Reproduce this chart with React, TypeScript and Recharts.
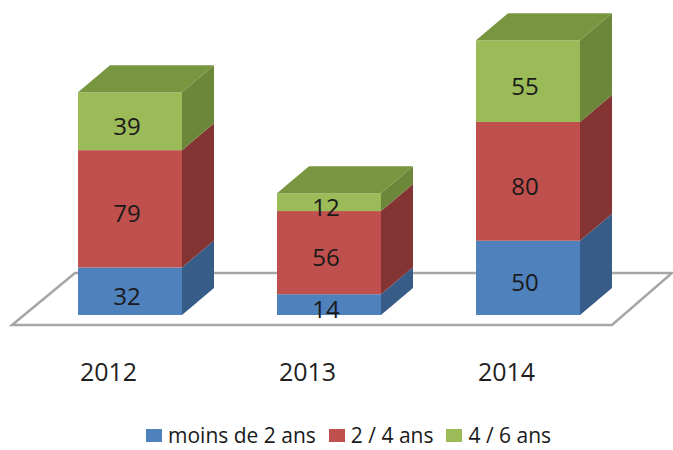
import React from 'react';
import { BarChart, Bar, XAxis, YAxis, Legend, LabelList, ReferenceArea } from 'recharts';

const categories = ['2012', '2013', '2014'];
const under2 = [32, 14, 50];
const from2to4 = [79, 56, 80];
const from4to6 = [39, 12, 55];
const seriesNames = ['moins de 2 ans', '2 / 4 ans', '4 / 6 ans'];
const frontColors = ['#4F81BD', '#C0504D', '#9BBB59'];
const sideColors = ['#385C88', '#843533', '#6C873A'];
const topColor = '#78963F';

const data = categories.map((year, i) => ({
  year,
  a: under2[i],
  b: from2to4[i],
  c: from4to6[i],
}));

const DX = 32;
const DY = 27;
const FONT = '"Open Sans", sans-serif';

const makeBox = (side: string, withTop: boolean) => (props: any) => {
  const { x, y, width, height, fill } = props;
  const w = Number(width);
  const h = Number(height);
  const X = Number(x);
  const Y = Number(y);
  if (!(w > 0) || !(h > 0)) return <g />;
  const sidePts = `${X + w},${Y + h} ${X + w + DX},${Y + h - DY} ${X + w + DX},${Y - DY} ${X + w},${Y}`;
  const topPts = `${X},${Y} ${X + DX},${Y - DY} ${X + w + DX},${Y - DY} ${X + w},${Y}`;
  return (
    <g>
      <rect x={X} y={Y} width={w} height={h} fill={fill} />
      <polygon points={sidePts} fill={side} />
      {withTop && <polygon points={topPts} fill={topColor} />}
    </g>
  );
};

const Floor = (props: any) => {
  const { x, y, width, height } = props;
  const base = Number(y) + Number(height);
  const X = Number(x);
  const W = Number(width);
  const frontY = base + 10;
  const backY = base - 42;
  const pts = `${X - 18},${frontY} ${X + 45},${backY} ${X + W + 45},${backY} ${X + W - 15},${frontY}`;
  return <polygon points={pts} fill="#FFFFFF" stroke="#A6A6A6" strokeWidth={2.5} />;
};

const YearTick = (props: any) => {
  const { x, y, payload } = props;
  return (
    <text x={Number(x) - 21} y={Number(y) + 66} textAnchor="middle" fontFamily={FONT} fontSize={25} fill="#1F1F1F">
      {payload.value}
    </text>
  );
};

const ValueLabel = (props: any) => {
  const { x, y, width, height, value } = props;
  return (
    <text
      x={Number(x) + Number(width) / 2 - 3}
      y={Number(y) + Number(height) / 2 + 4}
      textAnchor="middle"
      dominantBaseline="central"
      fontFamily={FONT}
      fontSize={24}
      fill="#1A1A1A"
    >
      {value}
    </text>
  );
};

const LegendContent = () => (
  <div style={{ display: 'flex', alignItems: 'center', height: 26, marginLeft: 146, fontFamily: FONT, fontSize: 21, color: '#1A1A1A', whiteSpace: 'nowrap' }}>
    {seriesNames.map((n, i) => (
      <div key={n} style={{ display: 'flex', alignItems: 'center', marginRight: 13 }}>
        <span style={{ display: 'inline-block', width: 16, height: 13, background: frontColors[i], marginRight: 6 }} />
        <span style={{ lineHeight: '26px' }}>{n}</span>
      </div>
    ))}
  </div>
);

export default function App() {
  return (
    <div style={{ position: 'absolute', left: 0, top: 0, background: '#fff' }}>
      <BarChart width={673} height={450} data={data} margin={{ top: 18, right: 46, bottom: 2, left: 30 }}>
        <XAxis dataKey="year" axisLine={false} tickLine={false} tickSize={0} tickMargin={0} height={107} tick={<YearTick />} interval={0} />
        <YAxis hide domain={[0, 200]} />
        <ReferenceArea y1={0} y2={5} shape={<Floor />} ifOverflow="visible" />
        <Bar dataKey="a" stackId="s" fill={frontColors[0]} barSize={104} isAnimationActive={false} shape={makeBox(sideColors[0], false)}>
          <LabelList dataKey="a" content={<ValueLabel />} />
        </Bar>
        <Bar dataKey="b" stackId="s" fill={frontColors[1]} barSize={104} isAnimationActive={false} shape={makeBox(sideColors[1], false)}>
          <LabelList dataKey="b" content={<ValueLabel />} />
        </Bar>
        <Bar dataKey="c" stackId="s" fill={frontColors[2]} barSize={104} isAnimationActive={false} shape={makeBox(sideColors[2], true)}>
          <LabelList dataKey="c" content={<ValueLabel />} />
        </Bar>
        <Legend verticalAlign="bottom" align="left" height={26} wrapperStyle={{ left: 0, width: 673 }} content={<LegendContent />} />
      </BarChart>
    </div>
  );
}
